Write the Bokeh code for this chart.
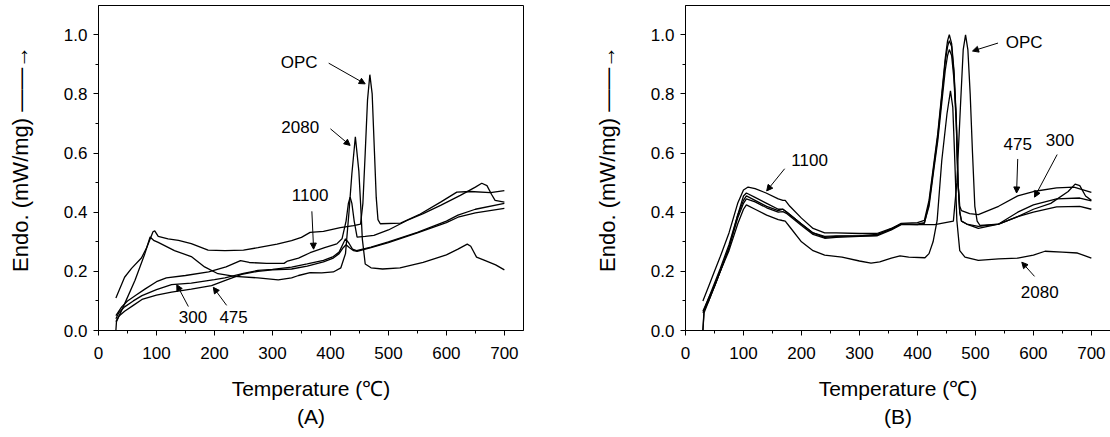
from bokeh.plotting import figure
from bokeh.layouts import row
from bokeh.models import (Label, Arrow, NormalHead, Title, FixedTicker,
                          PrintfTickFormatter, Range1d)
from bokeh.embed import file_html
from bokeh.resources import INLINE

FONT = "Liberation Sans"

# ---------------- Panel (A) ----------------
a_opc_t = [30, 45, 57, 74, 83, 94, 97, 103, 120, 138, 160, 189, 218, 250, 275, 308, 333, 350, 365, 388, 417, 440, 452, 456, 460, 464, 468, 472, 476, 479, 482, 486, 521, 555, 590, 618, 641, 676, 700]
a_opc_v = [0.11, 0.18, 0.21, 0.245, 0.28, 0.334, 0.337, 0.318, 0.31, 0.305, 0.294, 0.272, 0.27, 0.272, 0.28, 0.292, 0.304, 0.315, 0.332, 0.335, 0.348, 0.355, 0.36, 0.43, 0.6, 0.78, 0.865, 0.8, 0.6, 0.45, 0.375, 0.361, 0.363, 0.394, 0.434, 0.468, 0.47, 0.466, 0.473]

a_2080_t = [30, 31, 45, 63, 80, 89, 95, 103, 131, 160, 183, 206, 235, 275, 310, 333, 345, 365, 385, 405, 418, 426, 432, 437, 443, 449, 452, 455, 460, 470, 490, 520, 560, 600, 620, 636, 642, 652, 665, 685, 700]
a_2080_v = [0.0, 0.03, 0.09, 0.17, 0.26, 0.316, 0.305, 0.298, 0.27, 0.25, 0.215, 0.192, 0.183, 0.178, 0.171, 0.178, 0.186, 0.196, 0.195, 0.198, 0.212, 0.26, 0.4, 0.53, 0.655, 0.54, 0.43, 0.31, 0.225, 0.212, 0.208, 0.212, 0.23, 0.256, 0.275, 0.292, 0.285, 0.248, 0.238, 0.222, 0.205]

a_1100_t = [30, 40, 50, 65, 80, 100, 117, 150, 190, 220, 245, 260, 290, 320, 326, 345, 365, 390, 411, 420, 427, 431, 434, 437, 441, 446, 460, 475, 500, 532, 560, 590, 624, 650, 661, 670, 678, 684, 700]
a_1100_v = [0.05, 0.08, 0.1, 0.12, 0.14, 0.165, 0.178, 0.186, 0.198, 0.215, 0.236, 0.23, 0.227, 0.227, 0.235, 0.245, 0.263, 0.28, 0.293, 0.31, 0.37, 0.43, 0.451, 0.43, 0.37, 0.316, 0.318, 0.322, 0.34, 0.372, 0.395, 0.423, 0.457, 0.485, 0.498, 0.49, 0.46, 0.44, 0.434]

a_300_t = [30, 35, 45, 60, 75, 100, 126, 160, 200, 218, 250, 275, 300, 333, 360, 388, 405, 415, 421, 426, 432, 438, 445, 470, 500, 550, 600, 620, 650, 700]
a_300_v = [0.04, 0.06, 0.08, 0.1, 0.118, 0.138, 0.155, 0.16, 0.172, 0.178, 0.193, 0.203, 0.207, 0.214, 0.225, 0.237, 0.25, 0.265, 0.29, 0.31, 0.295, 0.275, 0.27, 0.282, 0.3, 0.332, 0.37, 0.39, 0.41, 0.43]

a_475_t = [30, 35, 45, 60, 75, 100, 126, 160, 195, 220, 247, 275, 300, 333, 360, 388, 405, 415, 422, 427, 433, 440, 446, 470, 500, 550, 600, 620, 650, 700]
a_475_v = [0.03, 0.048, 0.065, 0.085, 0.105, 0.12, 0.13, 0.14, 0.152, 0.17, 0.19, 0.2, 0.205, 0.208, 0.218, 0.232, 0.245, 0.26, 0.28, 0.29, 0.28, 0.27, 0.268, 0.28, 0.297, 0.33, 0.365, 0.383, 0.398, 0.413]

# ---------------- Panel (B) ----------------
b_opc_t = [30, 32, 40, 50, 60, 75, 90, 100, 105, 120, 140, 160, 168, 175, 200, 220, 240, 260, 300, 330, 355, 372, 400, 430, 462, 468, 474, 479, 483, 487, 491, 495, 499, 503, 508, 540, 573, 600, 630, 660, 672, 680, 690, 700]
b_opc_v = [0.0, 0.06, 0.1, 0.15, 0.2, 0.28, 0.39, 0.455, 0.465, 0.45, 0.43, 0.41, 0.41, 0.4, 0.36, 0.33, 0.318, 0.32, 0.32, 0.325, 0.342, 0.36, 0.358, 0.358, 0.37, 0.5, 0.75, 0.95, 1.0, 0.95, 0.8, 0.6, 0.42, 0.37, 0.355, 0.36, 0.385, 0.41, 0.43, 0.47, 0.495, 0.49, 0.455, 0.44]

b_1100_t = [30, 40, 50, 60, 75, 90, 100, 108, 120, 139, 160, 168, 172, 180, 200, 220, 240, 260, 300, 330, 355, 372, 400, 412, 420, 428, 435, 442, 448, 452, 455, 459, 463, 467, 470, 473, 476, 485, 505, 540, 573, 600, 640, 680, 700]
b_1100_v = [0.1, 0.15, 0.2, 0.25, 0.33, 0.43, 0.475, 0.485, 0.48, 0.465, 0.445, 0.44, 0.44, 0.42, 0.38, 0.345, 0.33, 0.33, 0.328, 0.328, 0.345, 0.362, 0.365, 0.372, 0.44, 0.56, 0.665, 0.8, 0.92, 0.98, 1.0, 0.97, 0.88, 0.72, 0.5, 0.4, 0.37, 0.36, 0.352, 0.36, 0.385, 0.4, 0.418, 0.42, 0.41]

b_475_t = [30, 40, 50, 60, 75, 90, 100, 105, 120, 140, 160, 168, 175, 200, 220, 240, 260, 300, 330, 355, 372, 400, 412, 420, 428, 435, 442, 448, 452, 455, 459, 463, 467, 470, 473, 476, 490, 505, 540, 573, 600, 640, 670, 700]
b_475_v = [0.065, 0.11, 0.16, 0.21, 0.29, 0.39, 0.44, 0.455, 0.44, 0.42, 0.405, 0.41, 0.4, 0.36, 0.33, 0.315, 0.318, 0.32, 0.322, 0.345, 0.36, 0.36, 0.365, 0.42, 0.54, 0.64, 0.77, 0.88, 0.93, 0.95, 0.93, 0.85, 0.7, 0.5, 0.42, 0.405, 0.395, 0.392, 0.42, 0.455, 0.47, 0.482, 0.485, 0.467]

b_300_t = [30, 40, 50, 60, 75, 90, 100, 105, 120, 140, 160, 168, 175, 200, 220, 240, 260, 300, 330, 355, 372, 400, 412, 420, 428, 435, 442, 448, 452, 455, 459, 463, 467, 470, 473, 476, 485, 505, 540, 573, 600, 640, 680, 700]
b_300_v = [0.06, 0.1, 0.15, 0.2, 0.28, 0.38, 0.43, 0.445, 0.435, 0.415, 0.4, 0.402, 0.395, 0.355, 0.325, 0.312, 0.315, 0.318, 0.32, 0.34, 0.358, 0.358, 0.362, 0.43, 0.55, 0.655, 0.79, 0.91, 0.96, 0.98, 0.96, 0.87, 0.71, 0.5, 0.4, 0.37, 0.36, 0.345, 0.36, 0.4, 0.425, 0.445, 0.448, 0.438]

b_2080_t = [30, 32, 40, 50, 60, 75, 90, 100, 105, 120, 140, 160, 167, 172, 180, 200, 220, 240, 270, 300, 320, 335, 355, 370, 385, 413, 420, 427, 434, 442, 451, 457, 461, 464, 468, 473, 482, 505, 540, 573, 600, 620, 650, 676, 700]
b_2080_v = [0.0, 0.07, 0.11, 0.15, 0.2, 0.27, 0.36, 0.41, 0.425, 0.41, 0.39, 0.375, 0.372, 0.37, 0.35, 0.3, 0.27, 0.255, 0.248, 0.235, 0.228, 0.232, 0.245, 0.252, 0.248, 0.246, 0.26, 0.3, 0.372, 0.575, 0.733, 0.81, 0.755, 0.6, 0.372, 0.27, 0.248, 0.237, 0.242, 0.245, 0.255, 0.268, 0.265, 0.262, 0.245]

x_ticks = [0, 100, 200, 300, 400, 500, 600, 700]
y_ticks = [0.0, 0.2, 0.4, 0.6, 0.8, 1.0]

a_series = [(a_opc_t, a_opc_v), (a_2080_t, a_2080_v), (a_1100_t, a_1100_v),
            (a_300_t, a_300_v), (a_475_t, a_475_v)]
b_series = [(b_opc_t, b_opc_v), (b_1100_t, b_1100_v), (b_475_t, b_475_v),
            (b_300_t, b_300_v), (b_2080_t, b_2080_v)]

# (text, x, y) and arrows (x0, y0, x1, y1) in data units
a_labels = [("OPC", 346, 0.907), ("2080", 348, 0.688), ("1100", 365, 0.457),
            ("300", 163, 0.045), ("475", 233, 0.045)]
a_arrows = [(397, 0.904, 460, 0.834), (400, 0.682, 434, 0.626),
            (368, 0.403, 371, 0.275), (155, 0.081, 135, 0.155),
            (221, 0.085, 198, 0.146)]
b_labels = [("OPC", 584, 0.975), ("1100", 214, 0.575), ("475", 573, 0.631),
            ("300", 646, 0.643), ("2080", 611, 0.13)]
b_arrows = [(539, 0.972, 495, 0.945), (171, 0.547, 140, 0.472),
            (573, 0.58, 571, 0.465), (641, 0.595, 602, 0.451),
            (602, 0.183, 580, 0.231)]

Y_TOP = 1.099
X_MAX = 733


def make_panel(series, labels, arrows, tag, b_left, b_right):
    p = figure(frame_width=425, frame_height=325,
               x_range=Range1d(0, X_MAX), y_range=Range1d(0, Y_TOP),
               min_border_left=b_left, min_border_right=b_right,
               min_border_top=5, min_border_bottom=105,
               output_backend="svg", toolbar_location=None,
               background_fill_color="white", border_fill_color="white")
    p.grid.visible = False
    p.outline_line_color = "black"
    p.outline_line_width = 1
    for t, v in series:
        p.line(t, v, line_color="black", line_width=1.3)

    for ax in (p.xaxis[0], p.yaxis[0]):
        ax.axis_line_color = "black"
        ax.major_tick_line_color = "black"
        ax.minor_tick_line_color = "black"
        ax.major_tick_out = 5
        ax.major_tick_in = 0
        ax.minor_tick_out = 3
        ax.minor_tick_in = 0
        ax.major_label_text_font = FONT
        ax.major_label_text_font_size = "17px"
        ax.major_label_text_color = "black"
        ax.axis_label_text_font = FONT
        ax.axis_label_text_font_style = "normal"
        ax.axis_label_text_color = "black"
    p.xaxis.ticker = FixedTicker(ticks=x_ticks, minor_ticks=[50, 150, 250, 350, 450, 550, 650])
    p.yaxis.ticker = FixedTicker(ticks=y_ticks, minor_ticks=[0.1, 0.3, 0.5, 0.7, 0.9])
    p.yaxis.formatter = PrintfTickFormatter(format="%.1f")
    p.xaxis.major_label_standoff = 11
    p.yaxis.major_label_standoff = 6
    p.xaxis.axis_label = "Temperature (\u2103)"
    p.xaxis.axis_label_text_font_size = "21px"
    p.xaxis.axis_label_standoff = 15

    # y axis title with upward arrow
    p.yaxis.axis_label = "\u00a0\u00a0\u00a0\u00a0Endo. (mW/mg)  \u2014\u2014\u2192"
    p.yaxis.axis_label_text_font_size = "22px"
    p.yaxis.axis_label_standoff = 28

    p.add_layout(Title(text=tag, align="center", text_font=FONT,
                       text_font_size="21px", text_font_style="normal",
                       text_color="black", standoff=0), "below")

    for txt, x, y in labels:
        p.add_layout(Label(x=x, y=y, text=txt, text_align="center", text_baseline="middle",
                           text_font=FONT, text_font_size="17px", text_color="black"))
    for x0, y0, x1, y1 in arrows:
        p.add_layout(Arrow(x_start=x0, y_start=y0, x_end=x1, y_end=y1,
                           line_color="black", line_width=1,
                           end=NormalHead(size=6, fill_color="black", line_color="black", line_width=1)))
    return p


pA = make_panel(a_series, a_labels, a_arrows, "(A)", 98, 68)
pB = make_panel(b_series, b_labels, b_arrows, "(B)", 90, 4)

layout = row(pA, pB)
open("out.html", "w").write(file_html(layout, INLINE))
